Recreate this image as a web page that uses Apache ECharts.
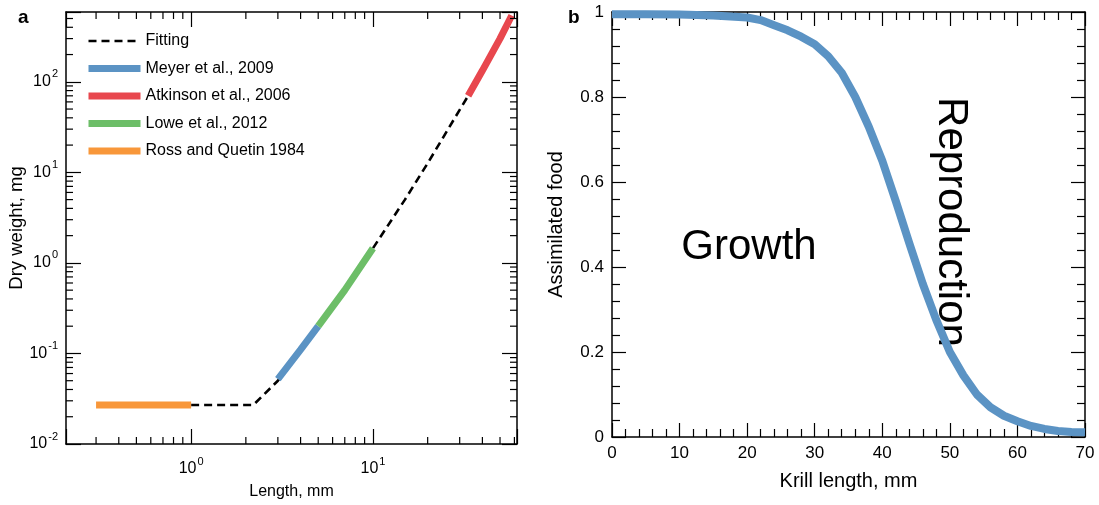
<!DOCTYPE html>
<html><head><meta charset="utf-8">
<script src="https://cdn.jsdelivr.net/npm/echarts@6/dist/echarts.min.js"></script>
<style>html,body{margin:0;padding:0;background:#fff}#c{width:1099px;height:505px}</style>
</head><body><div id="c"></div>
<script>
// ---------- Panel a data (log-log) ----------
const fitX = [1, 2.2, 3, 4, 5, 7, 10, 15, 20, 30, 33.4, 40, 50, 58];
const fitY = [0.027, 0.027, 0.05, 0.105, 0.195, 0.5, 1.45, 5.0, 12.6, 49, 70, 133, 300, 540];
const meyerX = [3, 4, 5];
const meyerY = [0.052, 0.11, 0.2];
const atkinsonX = [33.4, 40, 50, 58];
const atkinsonY = [70, 133, 300, 540];
const loweX = [5, 7, 10];
const loweY = [0.2, 0.5, 1.45];
const rossX = [0.3, 1];
const rossY = [0.027, 0.027];
const legendNames = ['Fitting', 'Meyer et al., 2009', 'Atkinson et al., 2006', 'Lowe et al., 2012', 'Ross and Quetin 1984'];
const xMinorTicksA = [0.3, 0.4, 0.5, 0.6, 0.7, 0.8, 0.9, 2, 3, 4, 5, 6, 7, 8, 9, 20, 30, 40, 50, 60];
const yMinorTicksA = [0.02, 0.03, 0.04, 0.05, 0.06, 0.07, 0.08, 0.09,
  0.2, 0.3, 0.4, 0.5, 0.6, 0.7, 0.8, 0.9,
  2, 3, 4, 5, 6, 7, 8, 9,
  20, 30, 40, 50, 60, 70, 80, 90,
  200, 300, 400, 500];

// ---------- Panel b data ----------
const krillLength = [0, 5, 10, 15, 20, 22, 24, 26, 28, 30, 32, 34, 36, 38, 40, 42, 44, 46, 48, 50, 52, 54, 56, 58, 60, 62, 64, 66, 68, 70];
const assimilatedFood = [0.995, 0.995, 0.994, 0.992, 0.987, 0.981, 0.969, 0.957, 0.942, 0.924, 0.896, 0.857, 0.80, 0.73, 0.65, 0.555, 0.456, 0.36, 0.275, 0.20, 0.145, 0.10, 0.07, 0.05, 0.037, 0.026, 0.019, 0.014, 0.012, 0.011];

const A_X_MIN = 0.205, A_X_MAX = 62, A_Y_MIN = 0.01, A_Y_MAX = 590;
const FF = "'Liberation Sans', Arial, Helvetica, sans-serif";
const C_BLUE = '#5b93c4', C_RED = '#e8474e', C_GREEN = '#6dbe68', C_ORANGE = '#f8973a';
const MINOR_LEN = 7;

const zip = (xs, ys) => xs.map((x, i) => [x, ys[i]]);

const powLabel = {
  formatter: function (v) {
    const l = Math.log10(v);
    const e = Math.round(l);
    if (Math.abs(l - e) > 1e-6) return '';
    return '{b|10}{s|' + e + '}';
  },
  rich: {
    b: { fontSize: 16, fontFamily: FF, color: '#000', lineHeight: 26 },
    s: { fontSize: 11, fontFamily: FF, color: '#000', verticalAlign: 'top', padding: [0, 0, 0, 1] }
  }
};

const axisLineStyle = { show: true, onZero: false, lineStyle: { color: '#000', width: 1.5 } };

function logAxis(extra) {
  return Object.assign({
    type: 'log', logBase: 10,
    axisLine: axisLineStyle,
    axisTick: { show: true, inside: true, length: 15, lineStyle: { color: '#000', width: 1.2 } },
    splitLine: { show: false }, minorTick: { show: false }, minorSplitLine: { show: false },
    nameMoveOverlap: false
  }, extra);
}
function valAxis(extra) {
  return Object.assign({
    type: 'value',
    axisLine: axisLineStyle,
    axisTick: { show: true, inside: true, length: 14, lineStyle: { color: '#000', width: 1.2 } },
    minorTick: { show: true, splitNumber: 5, length: 8, lineStyle: { color: '#000', width: 1.2 } },
    splitLine: { show: false }, minorSplitLine: { show: false },
    nameMoveOverlap: false
  }, extra);
}

const chart = echarts.init(document.getElementById('c'), null, { renderer: 'canvas' });
const option = {
  animation: false,
  backgroundColor: '#fff',
  textStyle: { fontFamily: FF },
  grid: [
    { left: 66, top: 12, width: 451, height: 433 },
    { left: 612, top: 12, width: 473, height: 425 }
  ],
  legend: {
    orient: 'vertical', left: 85, top: 33, padding: 0,
    itemWidth: 52, itemHeight: 14, itemGap: 11.5,
    selectedMode: false,
    itemStyle: { opacity: 0, borderWidth: 0 },
    textStyle: { fontSize: 16, fontFamily: FF, color: '#000' },
    data: [
      { name: legendNames[0], lineStyle: { width: 2.6 } },
      { name: legendNames[1], lineStyle: { width: 7 } },
      { name: legendNames[2], lineStyle: { width: 7 } },
      { name: legendNames[3], lineStyle: { width: 7 } },
      { name: legendNames[4], lineStyle: { width: 7 } }
    ]
  },
  xAxis: [
    logAxis({ gridIndex: 0, position: 'bottom', min: A_X_MIN, max: A_X_MAX,
      axisLabel: Object.assign({ margin: 12, showMinLabel: true, showMaxLabel: true }, powLabel),
      name: 'Length, mm', nameLocation: 'middle', nameGap: 40,
      nameTextStyle: { fontSize: 16, fontFamily: FF, color: '#000' } }),
    logAxis({ gridIndex: 0, position: 'top', min: A_X_MIN, max: A_X_MAX, axisLabel: { show: false } }),
    valAxis({ gridIndex: 1, position: 'bottom', min: 0, max: 70, interval: 10,
      axisLabel: { fontSize: 17, fontFamily: FF, color: '#000', margin: 8 },
      name: 'Krill length, mm', nameLocation: 'middle', nameGap: 34,
      nameTextStyle: { fontSize: 20, fontFamily: FF, color: '#000' } }),
    valAxis({ gridIndex: 1, position: 'top', min: 0, max: 70, interval: 10, axisLabel: { show: false } })
  ],
  yAxis: [
    logAxis({ gridIndex: 0, position: 'left', min: A_Y_MIN, max: A_Y_MAX,
      axisLabel: Object.assign({ margin: 8, showMinLabel: true, showMaxLabel: true }, powLabel),
      name: 'Dry weight, mg', nameLocation: 'middle', nameGap: 40,
      nameTextStyle: { fontSize: 18.5, fontFamily: FF, color: '#000' } }),
    logAxis({ gridIndex: 0, position: 'right', min: A_Y_MIN, max: A_Y_MAX, axisLabel: { show: false } }),
    valAxis({ gridIndex: 1, position: 'left', min: 0, max: 1, interval: 0.2,
      axisLabel: { fontSize: 17, fontFamily: FF, color: '#000', margin: 8 },
      name: 'Assimilated food', nameLocation: 'middle', nameGap: 46,
      nameTextStyle: { fontSize: 20, fontFamily: FF, color: '#000' } }),
    valAxis({ gridIndex: 1, position: 'right', min: 0, max: 1, interval: 0.2, axisLabel: { show: false } })
  ],
  series: [
    { type: 'line', name: legendNames[0], xAxisIndex: 0, yAxisIndex: 0, data: zip(fitX, fitY),
      symbol: 'none', itemStyle: { color: '#000' }, lineStyle: { color: '#000', width: 2.6, type: [8, 5] }, z: 2 },
    { type: 'line', name: legendNames[1], xAxisIndex: 0, yAxisIndex: 0, data: zip(meyerX, meyerY),
      symbol: 'none', itemStyle: { color: C_BLUE }, lineStyle: { color: C_BLUE, width: 7 }, z: 3 },
    { type: 'line', name: legendNames[2], xAxisIndex: 0, yAxisIndex: 0, data: zip(atkinsonX, atkinsonY),
      symbol: 'none', itemStyle: { color: C_RED }, lineStyle: { color: C_RED, width: 7 }, z: 3 },
    { type: 'line', name: legendNames[3], xAxisIndex: 0, yAxisIndex: 0, data: zip(loweX, loweY),
      symbol: 'none', itemStyle: { color: C_GREEN }, lineStyle: { color: C_GREEN, width: 7 }, z: 3 },
    { type: 'line', name: legendNames[4], xAxisIndex: 0, yAxisIndex: 0, data: zip(rossX, rossY),
      symbol: 'none', itemStyle: { color: C_ORANGE }, lineStyle: { color: C_ORANGE, width: 7 }, z: 3 },
    { type: 'custom', xAxisIndex: 0, yAxisIndex: 0, silent: true, z: 5,
      data: xMinorTicksA.map(v => [v, A_Y_MIN]),
      renderItem: function (params, api) {
        const v = api.value(0);
        const b = api.coord([v, A_Y_MIN]), t = api.coord([v, A_Y_MAX]);
        const st = { stroke: '#000', lineWidth: 1.2 };
        return { type: 'group', children: [
          { type: 'line', shape: { x1: b[0], y1: b[1], x2: b[0], y2: b[1] - MINOR_LEN }, style: st },
          { type: 'line', shape: { x1: t[0], y1: t[1], x2: t[0], y2: t[1] + MINOR_LEN }, style: st }
        ] };
      } },
    { type: 'custom', xAxisIndex: 0, yAxisIndex: 0, silent: true, z: 5,
      data: yMinorTicksA.map(v => [A_X_MIN, v]),
      renderItem: function (params, api) {
        const v = api.value(1);
        const l = api.coord([A_X_MIN, v]), r = api.coord([A_X_MAX, v]);
        const st = { stroke: '#000', lineWidth: 1.2 };
        return { type: 'group', children: [
          { type: 'line', shape: { x1: l[0], y1: l[1], x2: l[0] + MINOR_LEN, y2: l[1] }, style: st },
          { type: 'line', shape: { x1: r[0], y1: r[1], x2: r[0] - MINOR_LEN, y2: r[1] }, style: st }
        ] };
      } },
    { type: 'line', name: 'Assimilated food', xAxisIndex: 2, yAxisIndex: 2, data: zip(krillLength, assimilatedFood),
      symbol: 'none', itemStyle: { color: C_BLUE }, lineStyle: { color: C_BLUE, width: 8, join: 'round' }, z: 3 }
  ],
  graphic: [
    { type: 'text', x: 18, y: 8, style: { text: 'a', font: 'bold 19px ' + FF, fill: '#000' } },
    { type: 'text', x: 568, y: 8, style: { text: 'b', font: 'bold 19px ' + FF, fill: '#000' } },
    { type: 'text', x: 749, y: 247, style: { text: 'Growth', fontSize: 42, fontFamily: FF, fill: '#000', align: 'center', verticalAlign: 'middle' } },
    { type: 'text', x: 951, y: 222, rotation: -Math.PI / 2, style: { text: 'Reproduction', fontSize: 42, fontFamily: FF, fill: '#000', align: 'center', verticalAlign: 'middle' } }
  ]
};
chart.setOption(option);
</script>
</body></html>
